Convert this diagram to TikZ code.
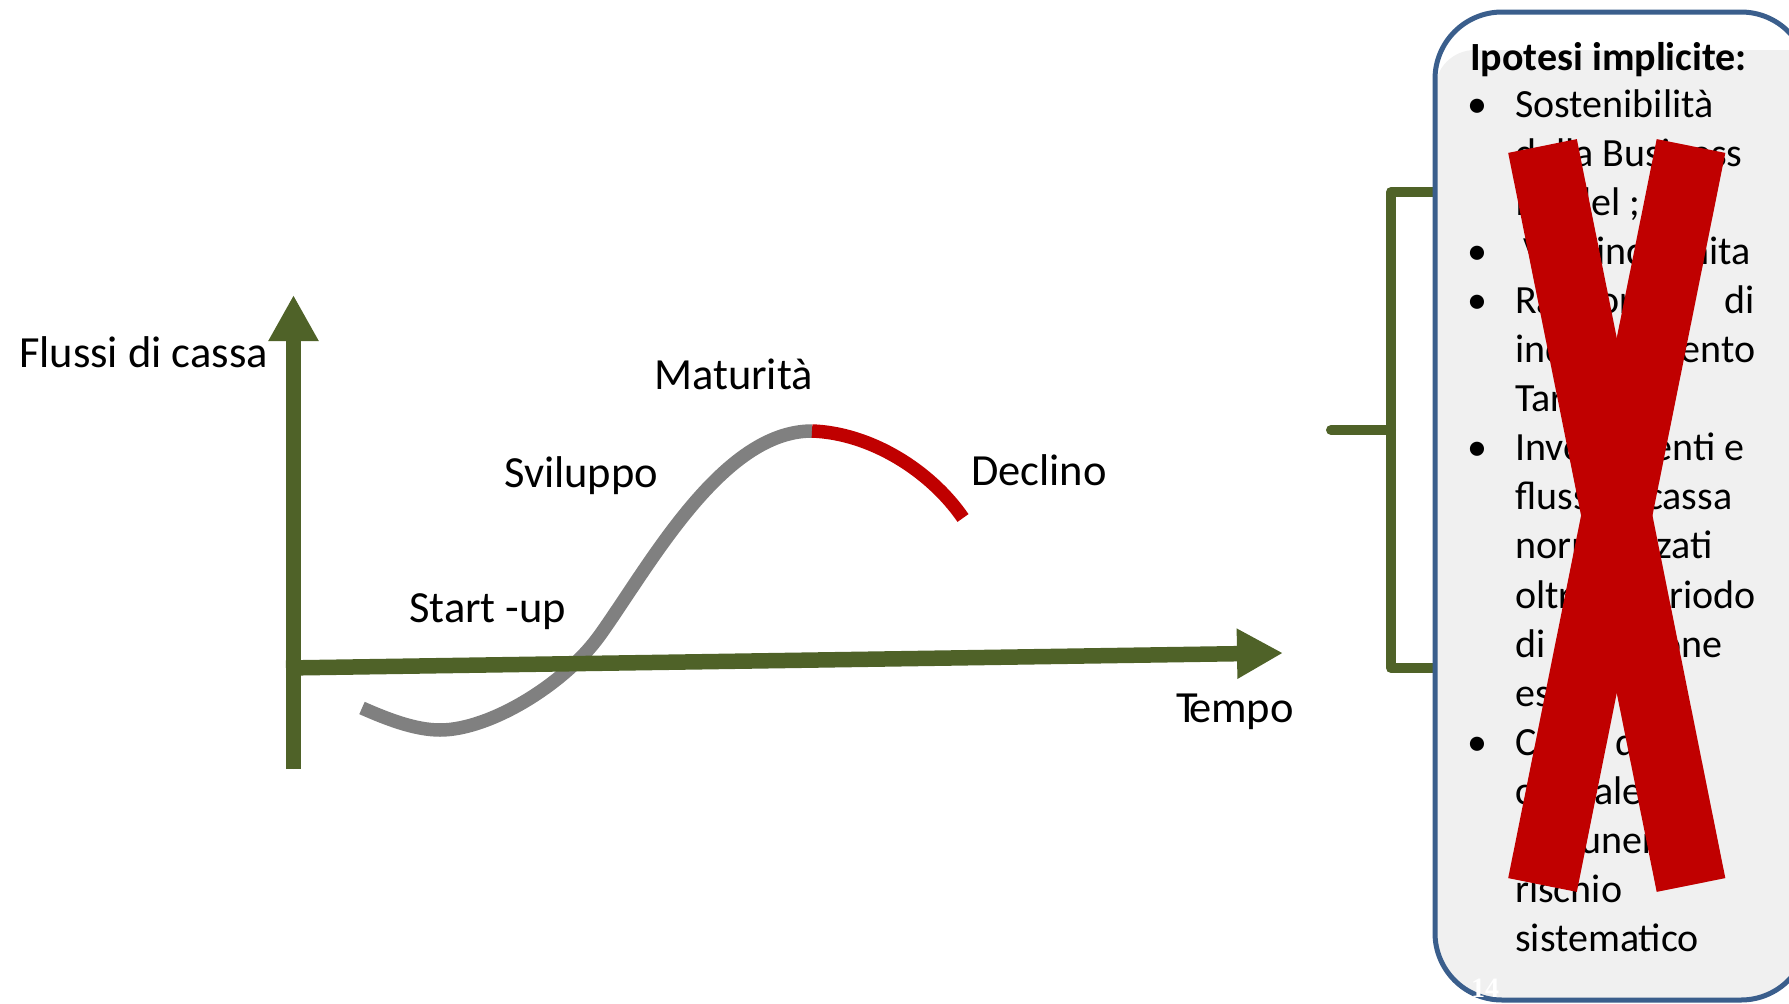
\documentclass[tikz,border=0pt]{standalone}
\usepackage{fontspec}
\setmainfont{Carlito}
\newfontfamily\numfont{Liberation Serif}
\usetikzlibrary{arrows.meta}
\definecolor{axisgreen}{HTML}{4F6228}
\definecolor{curvegray}{HTML}{808080}
\definecolor{declinered}{HTML}{C00000}
\definecolor{boxblue}{HTML}{3A5E8C}
\definecolor{boxfill}{HTML}{F0F0F0}

\begin{document}
\begin{tikzpicture}[x=1pt,y=-1pt,
  phase/.style={anchor=base west, inner sep=0pt, font=\fontsize{44.5}{54}\selectfont},
  boxline/.style={anchor=base west, inner sep=0pt, font=\fontsize{40}{48}\selectfont},
  bulletmark/.style={anchor=base, inner sep=0pt, font=\fontsize{40}{48}\selectfont},
  axisarrow/.style={draw=axisgreen, fill=axisgreen, line width=15.5pt,
    -{Triangle[length=46pt 0 0, width=47pt 0 0]}},
  bracketline/.style={draw=axisgreen, line width=10pt, line cap=round, line join=round},
  lifecurve/.style={line width=13.5pt},
  crossbar/.style={draw=declinered, line width=70pt}
]
\useasboundingbox (0,0) rectangle (1789,1004);
\clip (0,0) rectangle (1789,1004);

% life-cycle curve: start-up dip, growth, maturity peak
\coordinate (curvestart) at (362,708);
\coordinate (dip) at (440,730);
\coordinate (growth) at (600,635);
\coordinate (peak) at (812,431);
\coordinate (declend) at (963,518);
\draw[lifecurve, curvegray] (curvestart) .. controls (387,719) and (415,730) .. (dip)
  .. controls (490,730) and (565,684) .. (growth)
  .. controls (650,565) and (722,431) .. (peak);
\draw[lifecurve, declinered] (peak) .. controls (870,433) and (930,470) .. (declend);

% axes
\coordinate (ybot) at (293.5,769);
\coordinate (ytip) at (293.5,295);
\coordinate (xstart) at (286,668);
\coordinate (xtip) at (1283,653);
\draw[axisarrow] (ybot) -- (ytip);
\draw[axisarrow] (xstart) -- (xtip);

% labels
\node[phase] (flussi) at (19,367) {Flussi di cassa};
\node[phase] (maturita) at (654,389) {Maturità};
\node[phase] (sviluppo) at (504,487) {Sviluppo};
\node[phase] (startup) at (409,622) {Start -up};
\node[phase] (declino) at (971,485) {Declino};
\node[phase] (tempo) at (1176,722) {T\kern-.2em{}empo};

% bracket towards the box
\coordinate (brtop) at (1440,192);
\coordinate (brbot) at (1440,668);
\coordinate (brstub) at (1331,430);
\draw[bracketline] (brtop) -- (1391,192) -- (1391,668) -- (brbot);
\draw[bracketline] (brstub) -- (1391,430);

% box of implicit hypotheses
\path[fill=white, rounded corners=67pt] (1435,12) rectangle (1808,1000);
\begin{scope}
  \clip[rounded corners=67pt] (1435,12) rectangle (1808,1000);
  \fill[boxfill, rounded corners=40pt] (1435,50) rectangle (1850,1040);
\end{scope}
\draw[boxblue, line width=5pt, rounded corners=67pt] (1435,12) rectangle (1808,1000);

\node[boxline, font=\fontsize{40}{48}\selectfont\bfseries] (title) at (1470,70) {Ipotesi implicite:};

\foreach \i/\t in {0/Sostenibilità, 1/della Business, 2/Model ;,
    3/\hspace*{8pt}Vita indefinita, 4/\makebox[240pt][s]{Rapporto di},
    5/indebitamento, 6/Target, 7/Investimenti e, 8/flussi di cassa,
    9/normalizzati, 10/oltre il periodo, 11/di previsione, 12/esplicita,
    13/Costo del, 14/capitale, 15/remunera il, 16/rischio, 17/sistematico}
  \node[boxline] (line\i) at (1515,117+49.1*\i) {\t};

\foreach \i in {0,3,4,7,13}
  \node[bulletmark] (bul\i) at (1477,117+49.1*\i) {•};

\node[anchor=base west, inner sep=0pt, text=white,
  font=\numfont\bfseries\fontsize{28}{30}\selectfont] (pagenum) at (1471,997) {14};

% crossing-out mark
\coordinate (xa1) at (1542.5,146);
\coordinate (xa2) at (1691,885);
\coordinate (xb1) at (1691,146);
\coordinate (xb2) at (1542.5,885);
\draw[crossbar] (xa1) -- (xa2);
\draw[crossbar] (xb1) -- (xb2);
\end{tikzpicture}
\end{document}
